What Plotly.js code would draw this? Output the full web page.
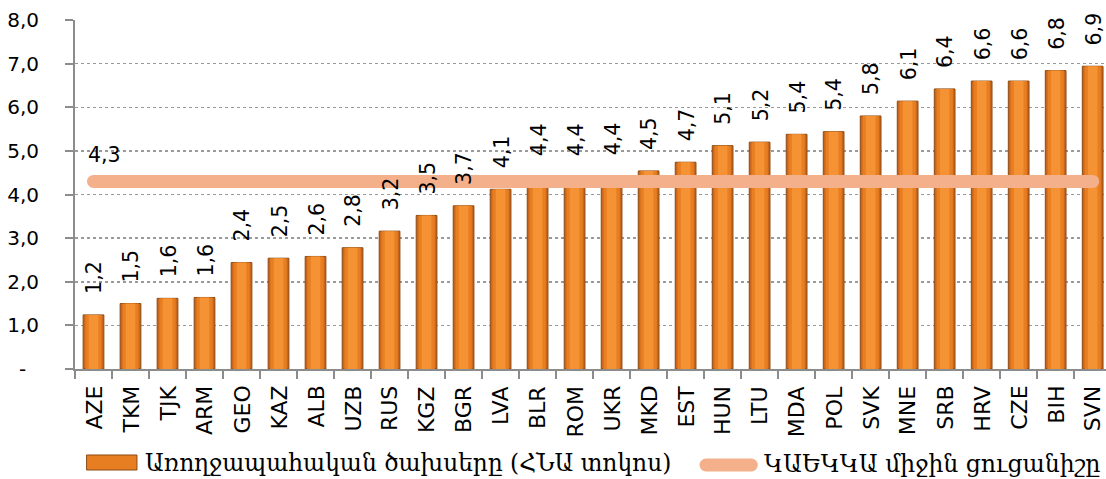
<!DOCTYPE html>
<html>
<head>
<meta charset="utf-8">
<script src="https://cdn.plot.ly/plotly-3.0.1.min.js"></script>
<style>
  html, body { margin: 0; padding: 0; background: #ffffff; }
  #chart { width: 1106px; height: 479px; }
</style>
</head>
<body>
<div id="chart"></div>
<script>
const categories = ["AZE","TKM","TJK","ARM","GEO","KAZ","ALB","UZB","RUS","KGZ","BGR","LVA","BLR","ROM","UKR","MKD","EST","HUN","LTU","MDA","POL","SVK","MNE","SRB","HRV","CZE","BIH","SVN"];
const healthSpending = [1.24,1.50,1.62,1.64,2.44,2.54,2.58,2.78,3.16,3.52,3.74,4.12,4.40,4.40,4.42,4.54,4.74,5.12,5.20,5.38,5.44,5.80,6.14,6.42,6.60,6.60,6.84,6.94];
const averageValue = 4.3;
const yTickValues = [0,1,2,3,4,5,6,7,8];
const yTickLabels = ["-\u00a0\u00a0","1,0","2,0","3,0","4,0","5,0","6,0","7,0","8,0"];
const seriesNames = ["Առողջապահական ծախսերը (ՀՆԱ տոկոս)", "ԿԱԵԿԿԱ միջին ցուցանիշը"];

const fmt = v => v.toFixed(1).replace('.', ',');
const idx = categories.map((c, i) => i);

const traces = [
  { type: 'bar', x: idx, y: healthSpending, width: 0.56,
    marker: { color: '#C9661B', line: { color: '#8A4A14', width: 1 } },
    hoverinfo: 'skip', showlegend: false },
  { type: 'bar', x: idx, y: healthSpending, width: 0.44,
    marker: { color: '#E87E22', line: { width: 0 } },
    hoverinfo: 'skip', showlegend: false },
  { type: 'bar', x: idx, y: healthSpending, width: 0.26,
    marker: { color: '#F59233', line: { width: 0 } },
    hoverinfo: 'skip', showlegend: false },
  { type: 'scatter', mode: 'lines', x: idx, y: idx.map(() => averageValue),
    line: { color: '#F4B08A', width: 13 }, hoverinfo: 'skip', showlegend: false }
];

const annotations = healthSpending.map((v, i) => ({
  x: i, y: v, xref: 'x', yref: 'y', text: fmt(v), textangle: -90,
  showarrow: false, yanchor: 'bottom', xanchor: 'center', yshift: 19, xshift: 1,
  font: { family: 'DejaVu Sans', size: 20.5, color: '#000000' }
}));
categories.forEach((c, i) => annotations.push({
  x: i, y: 0, xref: 'x', yref: 'y', text: c, textangle: -90,
  showarrow: false, yanchor: 'top', xanchor: 'center', yshift: -15, xshift: 0,
  font: { family: 'DejaVu Sans', size: 22, color: '#000000' }
}));
annotations.push({
  x: 0, y: averageValue, xref: 'x', yref: 'y', text: fmt(averageValue),
  showarrow: false, yanchor: 'bottom', xanchor: 'center', yshift: 12, xshift: 11,
  font: { family: 'DejaVu Sans', size: 20.5, color: '#000000' }
});
annotations.push({
  x: 0.066, y: -0.269, xref: 'paper', yref: 'paper', text: seriesNames[0],
  showarrow: false, xanchor: 'left', yanchor: 'middle',
  font: { family: 'DejaVu Serif', size: 23.3, color: '#000000' }
});
annotations.push({
  x: 0.666, y: -0.272, xref: 'paper', yref: 'paper', text: seriesNames[1],
  showarrow: false, xanchor: 'left', yanchor: 'middle',
  font: { family: 'DejaVu Serif', size: 23.5, color: '#000000' }
});

const shapes = [
  { type: 'rect', xref: 'paper', yref: 'paper', x0: 0.0116, x1: 0.0601, y0: -0.2894, y1: -0.2464,
    fillcolor: '#E87E22', line: { color: '#8A4A14', width: 1 } },
  { type: 'line', xref: 'paper', yref: 'paper', x0: 0.612, x1: 0.656, y0: -0.275, y1: -0.275,
    line: { color: '#F4B08A', width: 13 } }
];

const layout = {
  width: 1106, height: 479,
  margin: { l: 75, r: 0, t: 20, b: 110 },
  paper_bgcolor: '#ffffff', plot_bgcolor: '#ffffff',
  barmode: 'overlay', bargap: 0.44,
  showlegend: false,
  xaxis: {
    range: [-0.5, 27.36], tickvals: idx, showticklabels: false,
    ticks: '', showgrid: false, zeroline: false,
    showline: true, linecolor: '#8c8c8c', linewidth: 2,
    minor: { ticks: 'outside', tick0: 0.5, dtick: 1, ticklen: 8, tickwidth: 1.5, tickcolor: '#8c8c8c', showgrid: false }
  },
  yaxis: {
    range: [0, 8], tickvals: yTickValues, ticktext: yTickLabels,
    ticks: 'outside', ticklen: 8, tickwidth: 2, tickcolor: '#8c8c8c',
    showline: true, linecolor: '#8c8c8c', linewidth: 2,
    showgrid: true, gridcolor: '#9a9a9a', gridwidth: 1.5, griddash: 'dot',
    zeroline: false,
    tickfont: { family: 'DejaVu Sans', size: 20, color: '#000000' },
    ticklabelstandoff: 22
  },
  annotations: annotations,
  shapes: shapes
};

Plotly.newPlot('chart', traces, layout, { staticPlot: true, displayModeBar: false }).then(gd => {
  gd.querySelectorAll('.js-line').forEach(p => p.style.strokeLinecap = 'round');
  gd.querySelectorAll('.shapelayer path').forEach(p => p.style.strokeLinecap = 'round');
});
</script>
</body>
</html>
